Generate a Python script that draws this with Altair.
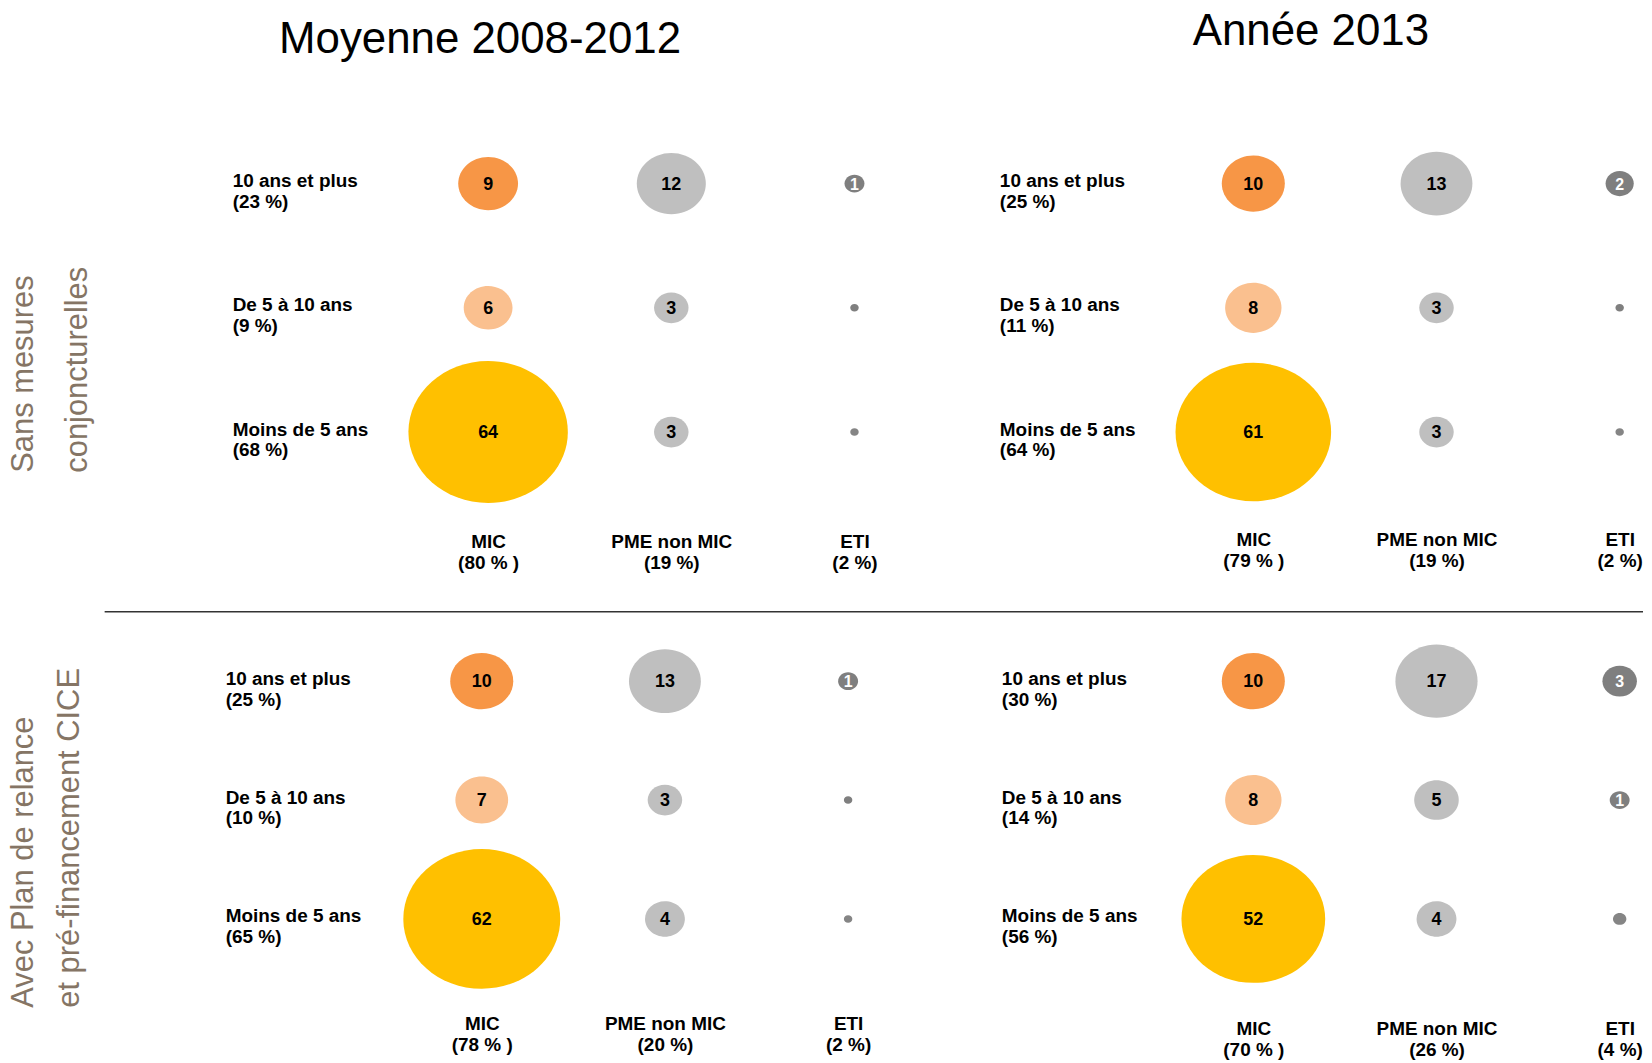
import altair as alt
import pandas as pd

# ---------------- data ----------------
ROWS = ["10 ans et plus", "De 5 à 10 ans", "Moins de 5 ans"]
COLS = ["MIC", "PME non MIC", "ETI"]

TITLE_LEFT = "Moyenne 2008-2012"
TITLE_RIGHT = "Année 2013"
SCEN_TOP = ["Sans mesures", "conjoncturelles"]
SCEN_BOTTOM = ["Avec Plan de relance", "et pré-financement CICE"]

# Top-left: Moyenne 2008-2012, sans mesures
tl_mic = [9, 6, 64]
tl_pme = [12, 3, 3]
tl_eti = [1, 0.18, 0.18]
tl_row_pct = [23, 9, 68]
tl_col_pct = [80, 19, 2]

# Top-right: Année 2013, sans mesures
tr_mic = [10, 8, 61]
tr_pme = [13, 3, 3]
tr_eti = [2, 0.18, 0.18]
tr_row_pct = [25, 11, 64]
tr_col_pct = [79, 19, 2]

# Bottom-left: Moyenne 2008-2012, avec plan de relance
bl_mic = [10, 7, 62]
bl_pme = [13, 3, 4]
bl_eti = [1, 0.18, 0.18]
bl_row_pct = [25, 10, 65]
bl_col_pct = [78, 20, 2]

# Bottom-right: Année 2013, avec plan de relance
br_mic = [10, 8, 52]
br_pme = [17, 5, 4]
br_eti = [3, 1, 0.45]
br_row_pct = [30, 14, 56]
br_col_pct = [70, 26, 4]

# ---------------- styling ----------------
FONT = "Liberation Sans, Arial, sans-serif"
KEYS = ["MIC-0", "MIC-1", "MIC-2", "PME-0", "PME-1", "PME-2", "ETI-0", "ETI-1", "ETI-2"]
COLORS_STD = ["#F79646", "#FAC08F", "#FFC000",
              "#BFBFBF", "#BFBFBF", "#BFBFBF",
              "#7F7F7F", "#7F7F7F", "#858585"]
COLORS_TR = ["#F79646", "#FAC08F", "#FFC000",
             "#BFBFBF", "#D9D9D9", "#D9D9D9",
             "#7F7F7F", "#858585", "#858585"]
ELLIPSE = ("M1,0C1,0.4915,0.5523,0.89,0,0.89C-0.5523,0.89,-1,0.4915,-1,0"
           "C-1,-0.4915,-0.5523,-0.89,0,-0.89C0.5523,-0.89,1,-0.4915,1,0Z")

W = 478
H_TOP = 374
H_BOT = 358


def build_df(mic, pme, eti, row_pct, col_pct):
    col_labels = [f"MIC|({col_pct[0]} % )", f"PME non MIC|({col_pct[1]} %)", f"ETI|({col_pct[2]} %)"]
    row_labels = [f"{r}|({p} %)" for r, p in zip(ROWS, row_pct)]
    recs = []
    for ci, (short, vals) in enumerate(zip(["MIC", "PME", "ETI"], [mic, pme, eti])):
        for ri, v in enumerate(vals):
            recs.append({"col": col_labels[ci], "row": row_labels[ri], "grp": short,
                         "key": f"{short}-{ri}", "v": v})
    return pd.DataFrame(recs), col_labels, row_labels


def panel(mic, pme, eti, row_pct, col_pct, k, colors, height, ylabpad, xlabpad,
          title=None, title_dx=0, title_offset=70, scen=None, scen_y=0, scen_lh=47,
          xalign=0.833):
    df, col_labels, row_labels = build_df(mic, pme, eti, row_pct, col_pct)
    y_axis_kwargs = dict(orient="left", ticks=False, tickSize=0, domain=False,
                         labelExpr="split(datum.label, '|')", labelAlign="left",
                         labelBaseline="middle", labelPadding=ylabpad, labelOffset=-3,
                         labelFont=FONT, labelFontSize=19, labelFontWeight="bold",
                         labelColor="black", labelLineHeight=21, labelLimit=400)
    if scen is not None:
        y_axis_kwargs.update(title=scen, titleAngle=270, titleAlign="left",
                             titleBaseline="top", titleX=-389, titleY=scen_y,
                             titleFont=FONT, titleFontSize=31, titleFontWeight="normal",
                             titleColor="#857565", titleLineHeight=scen_lh)
    else:
        y_axis_kwargs.update(title=None)

    x = alt.X("col:N", sort=col_labels,
              scale=alt.Scale(type="point", domain=col_labels, padding=0.3, align=xalign),
              axis=alt.Axis(orient="bottom", title=None, ticks=False, tickSize=0, domain=False,
                            labelAngle=0, labelExpr="split(datum.label, '|')",
                            labelAlign="center", labelBaseline="top", labelPadding=xlabpad,
                            labelFont=FONT, labelFontSize=19, labelFontWeight="bold",
                            labelColor="black", labelLineHeight=21, labelLimit=400))
    y = alt.Y("row:N", sort=row_labels,
              scale=alt.Scale(type="point", domain=row_labels, padding=0.5),
              axis=alt.Axis(**y_axis_kwargs))

    base = alt.Chart(df).transform_calculate(
        label="datum.v >= 1 ? format(datum.v, 'd') : ''"
    )
    bubbles = base.mark_point(shape=ELLIPSE, filled=True, opacity=1, strokeWidth=0).encode(
        x=x, y=y,
        size=alt.Size("v:Q", scale=alt.Scale(domain=[0, 100], range=[0, 100 * k * k]), legend=None),
        color=alt.Color("key:N", scale=alt.Scale(domain=KEYS, range=colors), legend=None),
    )
    labels = base.mark_text(font=FONT, fontWeight="bold", baseline="middle", align="center", dy=1).encode(
        x=x, y=y,
        text="label:N",
        color=alt.condition("datum.grp == 'ETI'", alt.value("white"), alt.value("black")),
        size=alt.condition("datum.grp == 'ETI'", alt.value(16), alt.value(18)),
    )
    layers = [bubbles, labels]
    props = dict(width=W, height=height)
    if title is not None:
        props["title"] = alt.TitleParams(title, anchor="start", frame="group", dx=title_dx,
                                         offset=title_offset, baseline="alphabetic",
                                         font=FONT, fontSize=44, fontWeight="normal", color="black")
    return alt.layer(*layers).properties(**props)


def separator():
    return alt.Chart(pd.DataFrame({"sep": [0]})).mark_rule(color="#333333", strokeWidth=1.5).encode(
        x=alt.value(-293), x2=alt.value(1251), y=alt.value(-10)
    )


tl = panel(tl_mic, tl_pme, tl_eti, tl_row_pct, tl_col_pct, 20.0, COLORS_STD, H_TOP, 165, 39,
           title=TITLE_LEFT, title_dx=-118, title_offset=25, scen=SCEN_TOP, scen_y=352, scen_lh=54)
tr = panel(tr_mic, tr_pme, tr_eti, tr_row_pct, tr_col_pct, 20.5, COLORS_TR, H_TOP, 163, 37,
           title=TITLE_RIGHT, title_dx=31, title_offset=33)
bl = panel(bl_mic, bl_pme, bl_eti, bl_row_pct, bl_col_pct, 19.4, COLORS_STD, H_BOT, 172, 36,
           scen=SCEN_BOTTOM, scen_y=387, scen_lh=45.5, xalign=0.775)
bl = alt.layer(separator(), bl)
br = panel(br_mic, br_pme, br_eti, br_row_pct, br_col_pct, 21.3, COLORS_STD, H_BOT, 161, 41)

chart = alt.concat(tl, tr, bl, br, columns=2, bounds="flush",
                   spacing=alt.RowColnumber(row=128, column=290)).properties(
    padding={"left": 0, "top": 0, "right": 0, "bottom": 0}
).configure_view(stroke=None).configure_axis(grid=False)

chart.save("out.html", embed_options={"renderer": "svg", "actions": False})
